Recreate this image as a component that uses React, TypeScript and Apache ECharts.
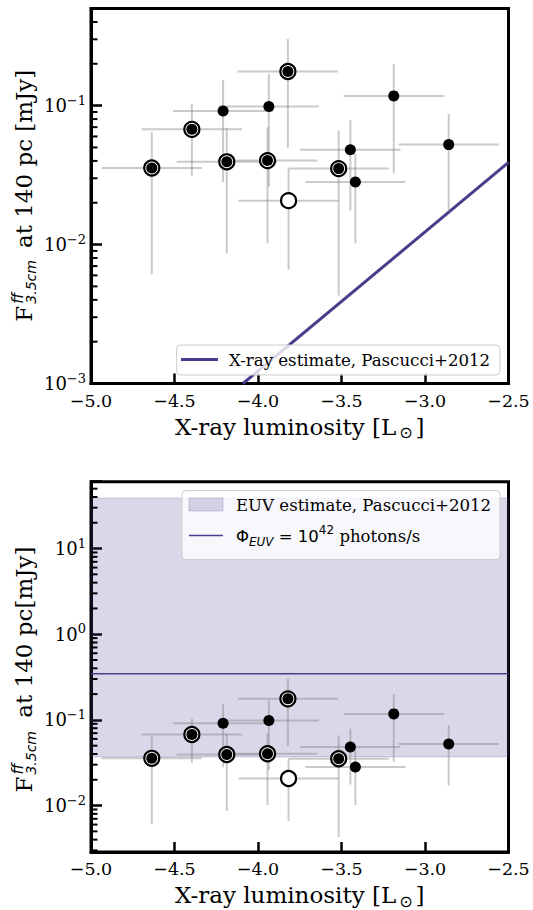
import React, { useEffect, useRef } from "react";
import * as echarts from "echarts";

// ---------- data ----------
const lumX = [-4.636, -4.396, -4.209, -4.187, -3.935, -3.943, -3.821, -3.817, -3.517, -3.447, -3.417, -3.187, -2.858];
const lumXErr = [0.3, 0.3, 0.3, 0.3, 0.3, 0.3, 0.3, 0.3, 0.3, 0.3, 0.3, 0.3, 0.3];
const flux = [0.0356, 0.0675, 0.0916, 0.0394, 0.0984, 0.0402, 0.176, 0.0207, 0.0352, 0.0482, 0.0282, 0.1175, 0.0524];
const fluxLow = [0.0061, 0.0313, 0.0281, 0.0086, 0.026, 0.0102, 0.0497, 0.0066, 0.0043, 0.0176, 0.0102, 0.0326, 0.0171];
const fluxHigh = [0.0643, 0.103, 0.153, 0.0692, 0.169, 0.0698, 0.302, 0.0351, 0.066, 0.0789, 0.045, 0.1995, 0.0871];
const markerKind = ["ring", "ring", "dot", "ring", "dot", "ring", "ring", "open", "ring", "dot", "dot", "dot", "dot"];

const xrayLineX = [-4.09, -2.5];
const xrayLineY = [0.001, 0.039];

const euvBandX = [-5.0, -2.5];
const euvBandLow = 0.037;
const euvBandHigh = 39;
const phiLineX = [-5.0, -2.5];
const phiLineY = [0.345, 0.345];

const xMin = -5.0;
const xMax = -2.5;
const xStep = 0.5;
const topYRange = [0.001, 0.5];
const botYRange = [0.00287, 60.3];

// ---------- style ----------
const SERIF = "DejaVu Serif";
const SANS = "DejaVu Sans";
const PURPLE = "#483d8b";
const ERR = "rgba(128,128,128,0.42)";

function minorTickValues(min: number, max: number) {
  const out: number[] = [];
  for (let e = Math.floor(Math.log10(min)); e <= Math.ceil(Math.log10(max)); e++) {
    for (let m = 2; m <= 9; m++) {
      const v = m * Math.pow(10, e);
      if (v > min * 1.0001 && v < max * 0.9999) out.push(v);
    }
  }
  return out;
}

const yLabelFmt = (v: number) => {
  const l = Math.log10(v);
  const e = Math.round(l);
  if (Math.abs(l - e) > 1e-6) return "";
  const s = e < 0 ? "−" + -e : String(e);
  return "{b|10}{s|" + s + "}";
};

const xLabelFmt = (v: number) => (v < 0 ? "−" : "") + Math.abs(v).toFixed(1);

function mkX(gi: number) {
  return {
    type: "value",
    gridIndex: gi,
    min: xMin,
    max: xMax,
    interval: xStep,
    axisLine: { show: true, onZero: false, lineStyle: { color: "#000", width: 3 } },
    axisTick: { show: true, inside: true, length: 10, lineStyle: { color: "#000", width: 2.5 } },
    splitLine: { show: false },
    axisLabel: {
      formatter: xLabelFmt,
      fontFamily: SERIF,
      fontSize: 17.5,
      color: "#000",
      margin: 8,
      showMinLabel: true,
      showMaxLabel: true,
      hideOverlap: false,
    },
    name: "X-ray luminosity [L{sun|⊙}]",
    nameLocation: "middle",
    nameGap: 29,
    nameTextStyle: {
      fontFamily: SERIF,
      fontSize: 23,
      color: "#000",
      lineHeight: 28,
      rich: {
        sun: { fontFamily: SANS, fontSize: 16, lineHeight: 23, verticalAlign: "bottom", padding: [0, 3, 0, 3], color: "#000" },
      },
    },
  };
}

function mkY(gi: number, range: number[]) {
  return {
    type: "log",
    logBase: 10,
    gridIndex: gi,
    min: range[0],
    max: range[1],
    axisLine: { show: true, lineStyle: { color: "#000", width: 3 } },
    axisTick: { show: true, inside: true, length: 11, lineStyle: { color: "#000", width: 2.5 } },
    minorTick: { show: false },
    splitLine: { show: false },
    axisLabel: {
      formatter: yLabelFmt,
      margin: 5,
      color: "#000",
      rich: {
        b: { fontFamily: SERIF, fontSize: 18, lineHeight: 24, color: "#000" },
        s: { fontFamily: SERIF, fontSize: 13, lineHeight: 13, verticalAlign: "top", color: "#000" },
      },
    },
  };
}

function panelSeries(gi: number, range: number[]) {
  const series: any[] = [];
  // minor ticks on log axis
  series.push({
    type: "custom",
    xAxisIndex: gi,
    yAxisIndex: gi,
    z: 6,
    silent: true,
    data: minorTickValues(range[0], range[1]).map((v) => [xMin, v]),
    encode: { x: 0, y: 1 },
    renderItem: (_p: any, api: any) => {
      const p = api.coord([api.value(0), api.value(1)]);
      return {
        type: "line",
        shape: { x1: p[0], y1: p[1], x2: p[0] + 6.5, y2: p[1] },
        style: { stroke: "#000", lineWidth: 2 },
      };
    },
  });
  // error bars
  series.push({
    type: "custom",
    xAxisIndex: gi,
    yAxisIndex: gi,
    z: 3,
    silent: true,
    data: lumX.map((x, i) => [x, flux[i], lumXErr[i], fluxLow[i], fluxHigh[i]]),
    encode: { x: 0, y: 1 },
    renderItem: (_p: any, api: any) => {
      const x = api.value(0);
      const y = api.value(1);
      const xe = api.value(2);
      const lo = api.value(3);
      const hi = api.value(4);
      const l = api.coord([x - xe, y]);
      const r = api.coord([x + xe, y]);
      const t = api.coord([x, hi]);
      const b = api.coord([x, lo]);
      return {
        type: "group",
        children: [
          { type: "line", shape: { x1: l[0], y1: l[1], x2: r[0], y2: r[1] }, style: { stroke: ERR, lineWidth: 2 } },
          { type: "line", shape: { x1: t[0], y1: t[1], x2: b[0], y2: b[1] }, style: { stroke: ERR, lineWidth: 2 } },
        ],
      };
    },
  });
  // rings (open circles)
  series.push({
    type: "scatter",
    xAxisIndex: gi,
    yAxisIndex: gi,
    z: 4,
    symbol: "circle",
    symbolSize: 15,
    itemStyle: { color: "#fff", borderColor: "#000", borderWidth: 2.2, opacity: 1 },
    data: lumX.map((x, i) => [x, flux[i], markerKind[i]]).filter((d) => d[2] !== "dot").map((d) => [d[0], d[1]]),
  });
  // filled dots
  series.push({
    type: "scatter",
    xAxisIndex: gi,
    yAxisIndex: gi,
    z: 5,
    symbol: "circle",
    symbolSize: 11,
    itemStyle: { color: "#000", opacity: 1 },
    data: lumX.map((x, i) => [x, flux[i], markerKind[i]]).filter((d) => d[2] !== "open").map((d) => [d[0], d[1]]),
  });
  return series;
}

function yNameGroup(bottomY: number, mainText: string, mainEnd: number) {
  const base = { fill: "#000", verticalAlign: "middle" };
  return {
    type: "group",
    x: 31.5,
    y: bottomY,
    rotation: Math.PI / 2,
    z: 100,
    children: [
      { type: "text", x: 0, y: -8, style: { ...base, text: "F", fontFamily: SERIF, fontSize: 23, textAlign: "left" } },
      { type: "text", x: 18, y: -14, style: { ...base, text: "ff", fontFamily: SANS, fontStyle: "italic", fontSize: 15, textAlign: "left" } },
      { type: "text", x: 18, y: -1, style: { ...base, text: "3.5cm", fontFamily: SANS, fontStyle: "italic", fontSize: 14, textAlign: "left" } },
      { type: "text", x: mainEnd, y: -8, style: { ...base, text: mainText, fontFamily: SERIF, fontSize: 23, textAlign: "right" } },
    ],
  };
}

export default function App() {
  const ref = useRef<HTMLDivElement>(null);
  useEffect(() => {
    document.body.style.margin = "0";
    if (!ref.current) return;
    const chart = echarts.init(ref.current, null, { renderer: "svg" });

    const series: any[] = [];
    // bottom band + phi line
    series.push({
      type: "custom",
      xAxisIndex: 1,
      yAxisIndex: 1,
      z: 1,
      silent: true,
      data: [[euvBandX[0], euvBandLow, euvBandX[1], euvBandHigh]],
      encode: { x: [0, 2], y: [1, 3] },
      renderItem: (_p: any, api: any) => {
        const p1 = api.coord([api.value(0), api.value(3)]);
        const p2 = api.coord([api.value(2), api.value(1)]);
        return {
          type: "rect",
          shape: { x: p1[0], y: p1[1], width: p2[0] - p1[0], height: p2[1] - p1[1] },
          style: { fill: "rgba(72,61,139,0.2)", stroke: "rgba(72,61,139,0.22)", lineWidth: 1 },
        };
      },
    });
    series.push({
      type: "line",
      xAxisIndex: 1,
      yAxisIndex: 1,
      z: 2,
      symbol: "none",
      silent: true,
      lineStyle: { color: PURPLE, width: 1.6 },
      data: phiLineX.map((x, i) => [x, phiLineY[i]]),
    });
    series.push({
      type: "line",
      xAxisIndex: 0,
      yAxisIndex: 0,
      z: 2,
      symbol: "none",
      silent: true,
      lineStyle: { color: PURPLE, width: 3 },
      data: xrayLineX.map((x, i) => [x, xrayLineY[i]]),
    });
    series.push(...panelSeries(0, topYRange));
    series.push(...panelSeries(1, botYRange));

    const legendText = { fill: "#000", fontFamily: SERIF, fontSize: 16.6, verticalAlign: "middle", textAlign: "left" };

    const option: any = {
      animation: false,
      backgroundColor: "#fff",
      grid: [
        { left: 91, top: 8.5, width: 417.5, height: 375, show: true, borderColor: "#000", borderWidth: 3, backgroundColor: "transparent" },
        { left: 91, top: 481.7, width: 417.5, height: 374.3, show: true, borderColor: "#000", borderWidth: 3, backgroundColor: "transparent" },
      ],
      xAxis: [mkX(0), mkX(1)],
      yAxis: [mkY(0, topYRange), mkY(1, botYRange)],
      series,
      graphic: [
        yNameGroup(321.7, "at 140 pc [mJy]", 252),
        yNameGroup(792.6, "at 140 pc[mJy]", 246),
        // top legend
        {
          type: "rect",
          z: 100,
          shape: { x: 176.7, y: 345, width: 323.3, height: 30, r: 4 },
          style: { fill: "rgba(255,255,255,0.8)", stroke: "#cccccc", lineWidth: 1 },
        },
        { type: "line", z: 101, shape: { x1: 181, y1: 359.5, x2: 218, y2: 359.5 }, style: { stroke: PURPLE, lineWidth: 3 } },
        { type: "text", z: 101, x: 229, y: 360, style: { ...legendText, text: "X-ray estimate, Pascucci+2012" } },
        // bottom legend
        {
          type: "rect",
          z: 100,
          shape: { x: 182, y: 490.6, width: 318, height: 69, r: 4 },
          style: { fill: "rgba(255,255,255,0.8)", stroke: "#cccccc", lineWidth: 1 },
        },
        {
          type: "rect",
          z: 101,
          shape: { x: 189, y: 498, width: 34, height: 13 },
          style: { fill: "rgba(72,61,139,0.2)", stroke: "rgba(72,61,139,0.22)", lineWidth: 1 },
        },
        { type: "text", z: 101, x: 236, y: 505, style: { ...legendText, text: "EUV estimate, Pascucci+2012" } },
        { type: "line", z: 101, shape: { x1: 189, y1: 535.5, x2: 223, y2: 535.5 }, style: { stroke: PURPLE, lineWidth: 1.6 } },
        {
          type: "text",
          z: 101,
          x: 236,
          y: 536,
          style: {
            ...legendText,
            text: "{phi|Φ}{sub|EUV}{eq| = 10}{sup|42}{t| photons/s}",
            rich: {
              phi: { fontFamily: SANS, fontSize: 16.5, lineHeight: 24, fill: "#000" },
              sub: { fontFamily: SANS, fontStyle: "italic", fontSize: 12, lineHeight: 16, verticalAlign: "bottom", fill: "#000" },
              eq: { fontFamily: SANS, fontSize: 16.5, lineHeight: 24, fill: "#000" },
              sup: { fontFamily: SANS, fontSize: 12, lineHeight: 12, verticalAlign: "top", fill: "#000" },
              t: { fontFamily: SERIF, fontSize: 16.5, lineHeight: 24, fill: "#000" },
            },
          },
        },
      ],
    };
    chart.setOption(option);
    return () => chart.dispose();
  }, []);
  return <div ref={ref} style={{ width: 533, height: 910 }} />;
}
